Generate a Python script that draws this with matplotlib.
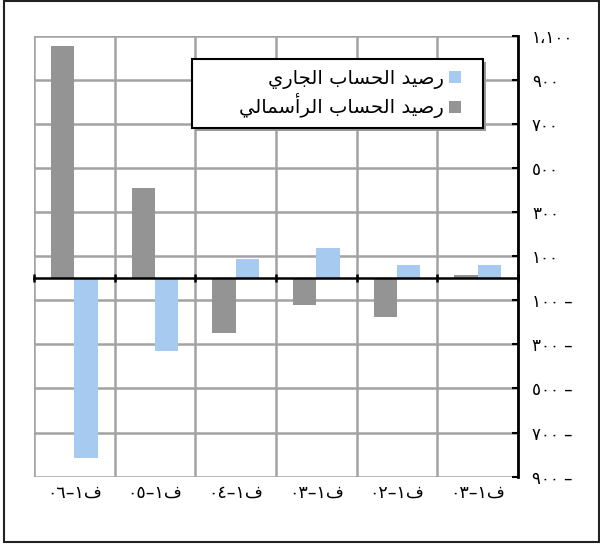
import matplotlib
matplotlib.use("Agg")
import matplotlib.pyplot as plt
from matplotlib.lines import Line2D
from matplotlib.patches import Rectangle
import numpy as np

# ---------------- data ----------------
categories = ["ف١-٠٦", "ف١-٠٥", "ف١-٠٤", "ف١-٠٣", "ف١-٠٢", "ف١-٠٣"]
capital_account = [1053, 410, -250, -122, -175, 17]   # رصيد الحساب الرأسمالي (gray)
current_account = [-814, -330, 88, 138, 59, 59]      # رصيد الحساب الجاري (blue)
y_ticks = [-900, -700, -500, -300, -100, 100, 300, 500, 700, 900, 1100]
label_current = "رصيد الحساب الجاري"
label_capital = "رصيد الحساب الرأسمالي"

# ---------------- helpers ----------------
AR_DIGITS = str.maketrans("0123456789", "٠١٢٣٤٥٦٧٨٩")

FORMS = {  # isolated, final, initial, medial
    "ا": ("\uFE8D", "\uFE8E", None, None),
    "أ": ("\uFE83", "\uFE84", None, None),
    "د": ("\uFEA9", "\uFEAA", None, None),
    "ر": ("\uFEAD", "\uFEAE", None, None),
    "ب": ("\uFE8F", "\uFE90", "\uFE91", "\uFE92"),
    "ت": ("\uFE95", "\uFE96", "\uFE97", "\uFE98"),
    "ج": ("\uFE9D", "\uFE9E", "\uFE9F", "\uFEA0"),
    "ح": ("\uFEA1", "\uFEA2", "\uFEA3", "\uFEA4"),
    "س": ("\uFEB1", "\uFEB2", "\uFEB3", "\uFEB4"),
    "ص": ("\uFEB9", "\uFEBA", "\uFEBB", "\uFEBC"),
    "ف": ("\uFED1", "\uFED2", "\uFED3", "\uFED4"),
    "ل": ("\uFEDD", "\uFEDE", "\uFEDF", "\uFEE0"),
    "م": ("\uFEE1", "\uFEE2", "\uFEE3", "\uFEE4"),
    "ي": ("\uFEF1", "\uFEF2", "\uFEF3", "\uFEF4"),
}


def shape_arabic(s):
    out = []
    n = len(s)
    for i, ch in enumerate(s):
        if ch not in FORMS:
            out.append(ch)
            continue
        iso, fin, ini, med = FORMS[ch]
        prev = s[i - 1] if i > 0 else ""
        nxt = s[i + 1] if i < n - 1 else ""
        jp = prev in FORMS and FORMS[prev][2] is not None
        jn = ini is not None and nxt in FORMS
        if jp and jn:
            out.append(med)
        elif jp:
            out.append(fin)
        elif jn:
            out.append(ini)
        else:
            out.append(iso)
    return "".join(out)


def visual(s):
    """Shape and reverse for RTL display, keeping digit runs in order."""
    shaped = shape_arabic(s)
    tokens = []
    for ch in shaped:
        if ch.isdigit() and tokens and tokens[-1][0].isdigit():
            tokens[-1] += ch
        else:
            tokens.append(ch)
    return "".join(reversed(tokens)).replace("-", "–")


def fmt_y(v):
    a = abs(v)
    if a >= 1000:
        txt = f"{a // 1000}،{a % 1000:03d}"
    else:
        txt = str(a)
    txt = txt.translate(AR_DIGITS)
    return txt + " –" if v < 0 else txt


# ---------------- figure ----------------
W, H = 600, 544
fig = plt.figure(figsize=(W / 100, H / 100), dpi=100)
plt.rcParams["font.family"] = ["DejaVu Sans"]

ax_l, ax_r, ax_t, ax_b = 34, 518, 35.7, 476.7
ax = fig.add_axes([ax_l / W, 1 - ax_b / H, (ax_r - ax_l) / W, (ax_b - ax_t) / H])

gray = "#949494"
blue = "#a6caf0"
grid_c = "#a3a3a3"

n = len(categories)
centers = np.arange(n) + 0.5
w = 0.29

ax.set_xlim(0, n)
ax.set_ylim(y_ticks[0], y_ticks[-1])

# grid
for yt in y_ticks:
    ax.axhline(yt, color=grid_c, lw=1.8, zorder=0.5)
for xb in range(n + 1):
    ax.axvline(xb, color=grid_c, lw=1.8, zorder=0.5)

ax.bar(centers - w / 2, capital_account, width=w, color=gray, zorder=2)
ax.bar(centers + w / 2, current_account, width=w, color=blue, zorder=2)

# spines
for s in ["left", "top"]:
    ax.spines[s].set_visible(False)
ax.spines["right"].set_linewidth(2)
ax.spines["right"].set_color("black")
ax.spines["bottom"].set_position(("data", 0))
ax.spines["bottom"].set_linewidth(1.8)
ax.spines["bottom"].set_zorder(3)

# x ticks on zero line (category boundaries), no labels
ax.set_xticks(range(n + 1))
ax.set_xticklabels([])
ax.tick_params(axis="x", direction="inout", length=6, width=1.8, color="black")

# x labels at bottom
sec = ax.secondary_xaxis("bottom")
sec.set_xticks(centers)
sec.set_xticklabels([visual(c) for c in categories], fontsize=12.5)
sec.tick_params(length=0, pad=5)
sec.spines["bottom"].set_visible(False)

# y axis on right
ax.yaxis.tick_right()
ax.set_yticks(y_ticks)
ax.set_yticklabels([fmt_y(v) for v in y_ticks], fontsize=12)
ax.tick_params(axis="y", direction="in", length=4, width=1.5, color="black", pad=10)

# legend frame (drawn by hand) with shadow
bx0, bx1, by0, by1 = 192, 483, 59, 128
fig.patches.append(Rectangle(((bx0 + 3) / W, 1 - (by1 + 3) / H), (bx1 - bx0) / W,
                             (by1 - by0) / H, transform=fig.transFigure,
                             facecolor="#9a9a9a", edgecolor="none", zorder=5))
fig.patches.append(Rectangle((bx0 / W, 1 - by1 / H), (bx1 - bx0) / W,
                             (by1 - by0) / H, transform=fig.transFigure,
                             facecolor="white", edgecolor="black", lw=1.5, zorder=6))

handles = [
    Line2D([], [], ls="none", marker="s", markersize=8, color=blue, markeredgewidth=0),
    Line2D([], [], ls="none", marker="s", markersize=8, color=gray, markeredgewidth=0),
]
leg = fig.legend(handles, [visual(label_current), visual(label_capital)],
                 loc="center right", bbox_to_anchor=(461 / W, 1 - 93.5 / H),
                 markerfirst=False, frameon=False, fontsize=14,
                 handlelength=0.6, handletextpad=0.3, borderpad=0,
                 borderaxespad=0, labelspacing=0.25)
leg.set_zorder(7)

# outer border
fig.patches.append(Rectangle((4 / W, 1 - 542 / H), 595 / W, 541 / H,
                             transform=fig.transFigure, fill=False,
                             edgecolor="#222222", lw=1.5))

fig.savefig("out.png", dpi=100)
